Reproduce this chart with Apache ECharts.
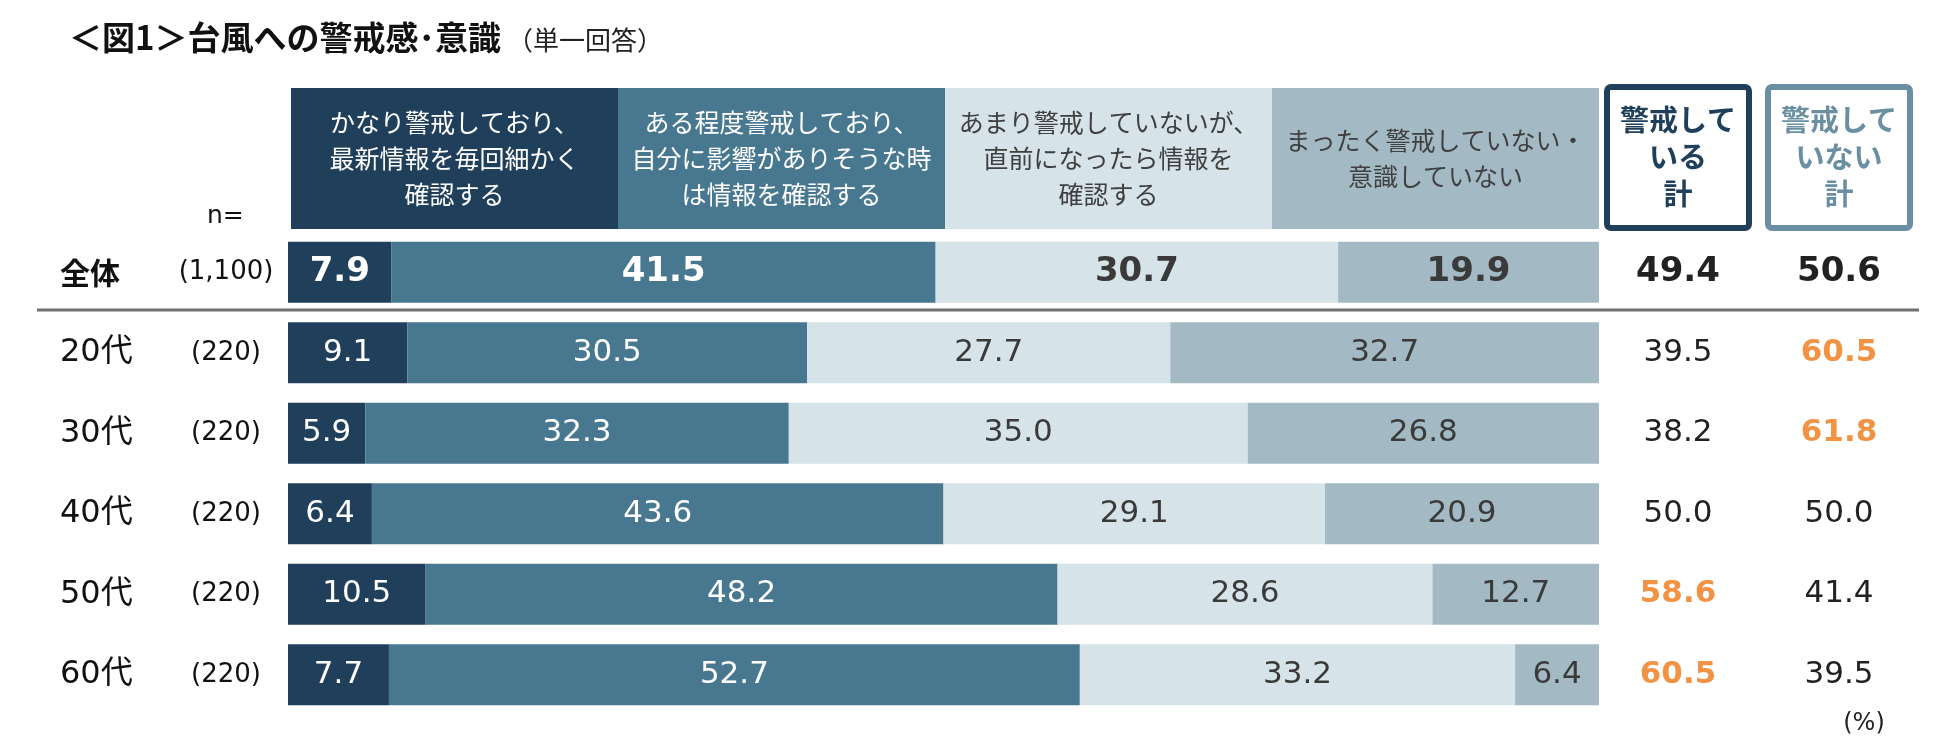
<!DOCTYPE html>
<html>
<head>
<meta charset="utf-8">
<title>台風への警戒感・意識</title>
<script src="https://cdn.jsdelivr.net/npm/echarts@6/dist/echarts.min.js"></script>
<style>
html, body { margin: 0; padding: 0; background: #fff; }
#chart { width: 1950px; height: 755px; }
</style>
</head>
<body>
<div id="chart"></div>
<script>
// data
var groups = ['全体', '20代', '30代', '40代', '50代', '60代'];
var counts = ['(1,100)', '(220)', '(220)', '(220)', '(220)', '(220)'];
var answers = [
    'かなり警戒しており、\n最新情報を毎回細かく\n確認する',
    'ある程度警戒しており、\n自分に影響がありそうな時\nは情報を確認する',
    'あまり警戒していないが、\n直前になったら情報を\n確認する',
    'まったく警戒していない・\n意識していない'
];
var veryAlert = [7.9, 9.1, 5.9, 6.4, 10.5, 7.7];
var someAlert = [41.5, 30.5, 32.3, 43.6, 48.2, 52.7];
var littleAlert = [30.7, 27.7, 35.0, 29.1, 28.6, 33.2];
var notAlert = [19.9, 32.7, 26.8, 20.9, 12.7, 6.4];
var alertTotal = [49.4, 39.5, 38.2, 50.0, 58.6, 60.5];
var notAlertTotal = [50.6, 60.5, 61.8, 50.0, 41.4, 39.5];
// values printed in orange
var alertHigh = [false, false, false, false, true, true];
var notAlertHigh = [false, true, true, false, false, false];
var headerFill = [1, 1, 1, 1];

var colors = ['#203f5a', '#48788f', '#d6e3e8', '#a3bac5'];
var textColors = ['#ffffff', '#ffffff', '#3a3a3a', '#3a3a3a'];
var ORANGE = '#f29344';
var NUM = "'DejaVu Sans', 'Noto Sans CJK JP', sans-serif";
var JP = "'Noto Sans CJK JP', sans-serif";

var chart = echarts.init(document.getElementById('chart'));

function barSeries(idx, values) {
    return {
        type: 'bar',
        name: answers[idx],
        stack: 'all',
        xAxisIndex: 0,
        yAxisIndex: 0,
        barWidth: 61,
        data: values,
        itemStyle: { color: colors[idx] },
        label: {
            show: true,
            position: 'inside',
            fontFamily: NUM,
            fontSize: 31,
            color: textColors[idx],
            formatter: function (p) {
                var s = p.value.toFixed(1);
                return p.dataIndex === 0 ? '{b|' + s + '}' : '{n|' + s + '}';
            },
            rich: {
                n: { fontFamily: NUM, fontSize: 31, color: textColors[idx] },
                b: { fontFamily: NUM, fontSize: 34, fontWeight: 'bold', color: textColors[idx] }
            }
        }
    };
}

// rich styles for the two total columns: n = normal, o = orange, b = bold (全体)
function totalStyles(width) {
    return {
        n: { width: width, align: 'center', fontFamily: NUM, fontSize: 31, color: '#222' },
        o: { width: width, align: 'center', fontFamily: NUM, fontSize: 31, fontWeight: 'bold', color: ORANGE },
        b: { width: width, align: 'center', fontFamily: NUM, fontSize: 34, fontWeight: 'bold', color: '#222' }
    };
}
var totalRich = {};
[['p', 148], ['q', 174]].forEach(function (c) {
    var st = totalStyles(c[1]);
    for (var k in st) totalRich[c[0] + k] = st[k];
});

function totalCell(prefix, v, high, first) {
    var key = prefix + (first ? 'b' : (high ? 'o' : 'n'));
    return '{' + key + '|' + v.toFixed(1) + '}';
}

option = {
    animation: false,
    title: {
        left: 64,
        top: 16,
        text: '{a|＜図1＞台風への警戒感･意識}{s|（単一回答）}',
        textStyle: {
            rich: {
                a: { fontFamily: JP, fontSize: 33, fontWeight: 'bold', color: '#111' },
                s: { fontFamily: JP, fontSize: 26, fontWeight: 'normal', color: '#222', padding: [6, 0, 0, 6] }
            }
        }
    },
    grid: [
        { left: 288, right: 351, top: 232, bottom: 40, containLabel: false },
        { left: 291, right: 351, top: 88, height: 141, containLabel: false }
    ],
    xAxis: [
        { type: 'value', gridIndex: 0, min: 0, max: 100, show: false },
        { type: 'category', gridIndex: 1, data: answers, show: false }
    ],
    yAxis: [
        {
            type: 'category',
            gridIndex: 0,
            data: groups,
            inverse: true,
            axisLine: { show: false },
            axisTick: { show: false },
            axisLabel: {
                margin: 8,
                formatter: function (v, i) {
                    return (i === 0 ? '{gb|' : '{g|') + v + '}{n|' + counts[i] + '}';
                },
                rich: {
                    g: { width: 112, align: 'left', fontFamily: NUM, fontSize: 32, color: '#111' },
                    gb: { width: 112, align: 'left', fontFamily: JP, fontSize: 30, fontWeight: 'bold', color: '#111' },
                    n: { width: 108, align: 'center', fontFamily: NUM, fontSize: 26, color: '#111' }
                }
            }
        },
        {
            type: 'category',
            gridIndex: 0,
            data: groups,
            inverse: true,
            position: 'right',
            axisLine: { show: false },
            axisTick: { show: false },
            axisLabel: {
                margin: 5,
                formatter: function (v, i) {
                    return totalCell('p', alertTotal[i], alertHigh[i], i === 0) +
                        totalCell('q', notAlertTotal[i], notAlertHigh[i], i === 0);
                },
                rich: totalRich
            }
        },
        { type: 'value', gridIndex: 1, min: 0, max: 1, show: false }
    ],
    graphic: [
        {
            type: 'line',
            shape: { x1: 37, y1: 310, x2: 1919, y2: 310 },
            style: { stroke: '#707070', lineWidth: 3 }
        },
        {
            type: 'text',
            left: 207,
            top: 204,
            style: { text: 'n=', fontFamily: NUM, fontSize: 25, fill: '#111' }
        },
        {
            type: 'rect',
            shape: { x: 1607, y: 87, width: 142, height: 141, r: 4 },
            style: { fill: '#fff', stroke: '#203f5a', lineWidth: 6 }
        },
        {
            type: 'text',
            x: 1678,
            y: 157,
            style: {
                text: '警戒して\nいる\n計',
                fontFamily: JP, fontSize: 29, fontWeight: 'bold', lineHeight: 37,
                fill: '#203f5a', align: 'center', verticalAlign: 'middle'
            }
        },
        {
            type: 'rect',
            shape: { x: 1768, y: 87, width: 142, height: 141, r: 4 },
            style: { fill: '#fff', stroke: '#6a8fa3', lineWidth: 6 }
        },
        {
            type: 'text',
            x: 1839,
            y: 157,
            style: {
                text: '警戒して\nいない\n計',
                fontFamily: JP, fontSize: 29, fontWeight: 'bold', lineHeight: 37,
                fill: '#6a8fa3', align: 'center', verticalAlign: 'middle'
            }
        },
        {
            type: 'text',
            x: 1864,
            y: 724,
            style: {
                text: '(%)', fontFamily: NUM, fontSize: 24, fill: '#222',
                align: 'center', verticalAlign: 'middle'
            }
        }
    ],
    series: [
        barSeries(0, veryAlert),
        barSeries(1, someAlert),
        barSeries(2, littleAlert),
        barSeries(3, notAlert),
        {
            type: 'bar',
            xAxisIndex: 1,
            yAxisIndex: 2,
            barWidth: '100%',
            data: headerFill.map(function (v, i) {
                return {
                    value: v,
                    itemStyle: { color: colors[i] },
                    label: { color: i < 2 ? '#ffffff' : '#404040' }
                };
            }),
            label: {
                show: true,
                position: 'inside',
                formatter: '{b}',
                fontFamily: JP,
                fontSize: 25,
                lineHeight: 36
            }
        }
    ]
};

chart.setOption(option);
</script>
</body>
</html>
